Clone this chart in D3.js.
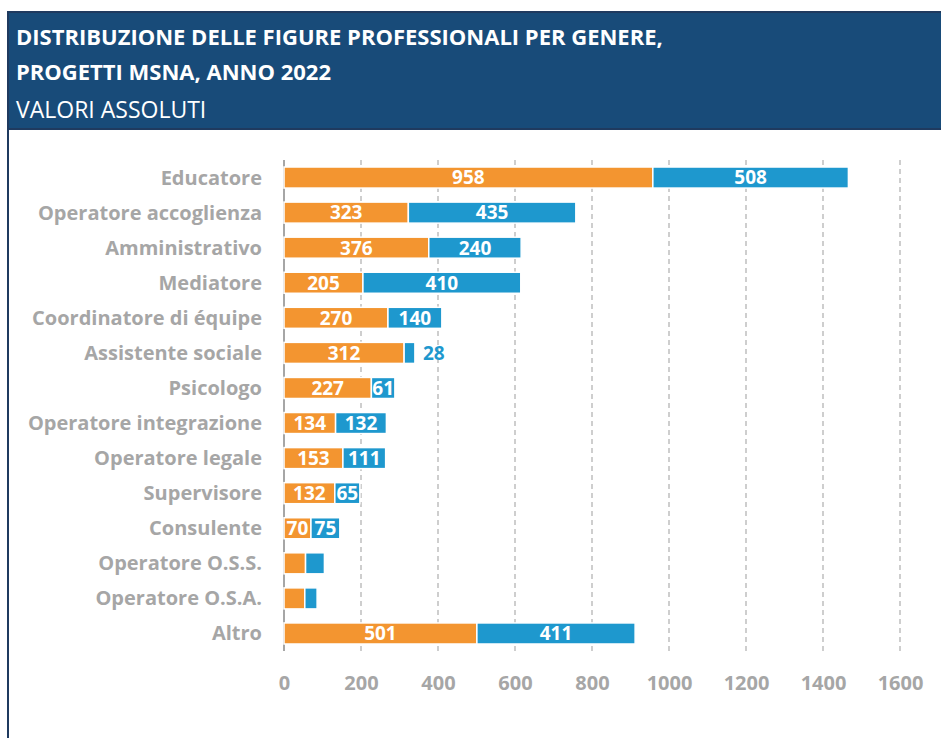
<html>
<head>
<meta charset="utf-8" />
<title>Distribuzione figure professionali per genere</title>
<script src="https://d3js.org/d3.v7.min.js"></script>
<style>
    body { margin: 0px; background: #fff; }
    .cat { fill: #A6A6A6; font-family: "Open Sans", sans-serif; font-weight: bold; font-size: 20px; }
    .tick text { fill: #A6A6A6; font-family: "Open Sans", sans-serif; font-weight: bold; font-size: 20px; }
    .val { font-family: "Open Sans", sans-serif; font-weight: bold; font-size: 19px; }
</style>
</head>
<body>
<svg id="chart" width="941" height="738"></svg>
<script>
// categorie e valori
var categorie = ["Educatore", "Operatore accoglienza", "Amministrativo", "Mediatore",
    "Coordinatore di équipe", "Assistente sociale", "Psicologo", "Operatore integrazione",
    "Operatore legale", "Supervisore", "Consulente", "Operatore O.S.S.", "Operatore O.S.A.", "Altro"];
var serieArancio = [958, 323, 376, 205, 270, 312, 227, 134, 153, 132, 70, 56, 54, 501];
var serieBlu     = [508, 435, 240, 410, 140, 28, 61, 132, 111, 65, 75, 49, 32, 411];
// categorie senza etichetta nel grafico originale
var senzaEtichetta = ["Operatore O.S.S.", "Operatore O.S.A."];
var xTicks = [0, 200, 400, 600, 800, 1000, 1200, 1400, 1600];

var svg = d3.select("#chart");

// intestazione
svg.append("rect")
    .attr("x", 8).attr("y", 12).attr("width", 940).attr("height", 117)
    .attr("fill", "#184B79").attr("stroke", "#1F3A5F").attr("stroke-width", 2);
svg.append("line")
    .attr("x1", 8).attr("x2", 8).attr("y1", 12).attr("y2", 738)
    .attr("stroke", "#1F3A5F").attr("stroke-width", 2);

var titolo = ["DISTRIBUZIONE DELLE FIGURE PROFESSIONALI PER GENERE,", "PROGETTI MSNA, ANNO 2022"];
svg.selectAll("text.titolo")
    .data(titolo)
    .enter()
    .append("text")
    .attr("class", "titolo")
    .attr("x", 16)
    .attr("y", (d, i) => 45 + i * 35)
    .attr("fill", "#fff")
    .style("font-family", "'Open Sans', sans-serif")
    .style("font-weight", "bold")
    .style("font-size", "22px")
    .text(d => d);
svg.append("text")
    .attr("x", 16).attr("y", 118)
    .attr("fill", "#fff")
    .style("font-family", "'Open Sans', sans-serif")
    .style("font-size", "23px")
    .text("VALORI ASSOLUTI");

var x = d3.scaleLinear().domain([0, 1600]).range([284, 900]);
var y = d3.scaleBand().domain(categorie).range([160, 651]).paddingInner(0.4).paddingOuter(0.2);

// griglia tratteggiata
svg.append("g")
    .selectAll("line")
    .data(xTicks.slice(1))
    .enter()
    .append("line")
    .attr("x1", d => x(d)).attr("x2", d => x(d))
    .attr("y1", 160).attr("y2", 651)
    .attr("stroke", "#BFBFBF").attr("stroke-width", 1.5)
    .attr("stroke-dasharray", "5,4");

// asse x (solo etichette)
var gx = svg.append("g")
    .attr("transform", "translate(0,650)")
    .call(d3.axisBottom(x).tickValues(xTicks).tickFormat(d3.format("d")).tickSize(0).tickPadding(26));
gx.select(".domain").remove();

// asse verticale
svg.append("line")
    .attr("x1", x(0)).attr("x2", x(0)).attr("y1", 160).attr("y2", 651)
    .attr("stroke", "#A6A6A6").attr("stroke-width", 2);

var righe = categorie.map((c, i) => ({ cat: c, a: serieArancio[i], b: serieBlu[i] }));

// etichette categorie
svg.append("g")
    .selectAll("text")
    .data(righe)
    .enter()
    .append("text")
    .attr("class", "cat")
    .attr("x", 262)
    .attr("y", d => y(d.cat) + y.bandwidth() / 2)
    .attr("dy", "0.35em")
    .attr("text-anchor", "end")
    .text(d => d.cat);

// barre arancio
svg.append("g")
    .selectAll("rect")
    .data(righe)
    .enter()
    .append("rect")
    .attr("x", x(0))
    .attr("y", d => y(d.cat))
    .attr("width", d => x(d.a) - x(0))
    .attr("height", y.bandwidth())
    .attr("fill", "#F39530")
    .attr("stroke", "#fff").attr("stroke-width", 1.5);

// barre blu
svg.append("g")
    .selectAll("rect")
    .data(righe)
    .enter()
    .append("rect")
    .attr("x", d => x(d.a))
    .attr("y", d => y(d.cat))
    .attr("width", d => x(d.a + d.b) - x(d.a))
    .attr("height", y.bandwidth())
    .attr("fill", "#1E98CE")
    .attr("stroke", "#fff").attr("stroke-width", 1.5);

var conEtichetta = righe.filter(d => senzaEtichetta.indexOf(d.cat) < 0);

svg.append("g")
    .selectAll("text")
    .data(conEtichetta)
    .enter()
    .append("text")
    .attr("class", "val")
    .attr("x", d => (x(0) + x(d.a)) / 2)
    .attr("y", d => y(d.cat) + y.bandwidth() / 2)
    .attr("dy", "0.36em")
    .attr("text-anchor", "middle")
    .attr("fill", "#fff")
    .text(d => d.a);

svg.append("g")
    .selectAll("text")
    .data(conEtichetta)
    .enter()
    .append("text")
    .attr("class", "val")
    .attr("x", d => d.b < 40 ? x(d.a + d.b) + 8 : (x(d.a) + x(d.a + d.b)) / 2)
    .attr("y", d => y(d.cat) + y.bandwidth() / 2)
    .attr("dy", "0.36em")
    .attr("text-anchor", d => d.b < 40 ? "start" : "middle")
    .attr("fill", d => d.b < 40 ? "#1E98CE" : "#fff")
    .text(d => d.b);
</script>
</body>
</html>
